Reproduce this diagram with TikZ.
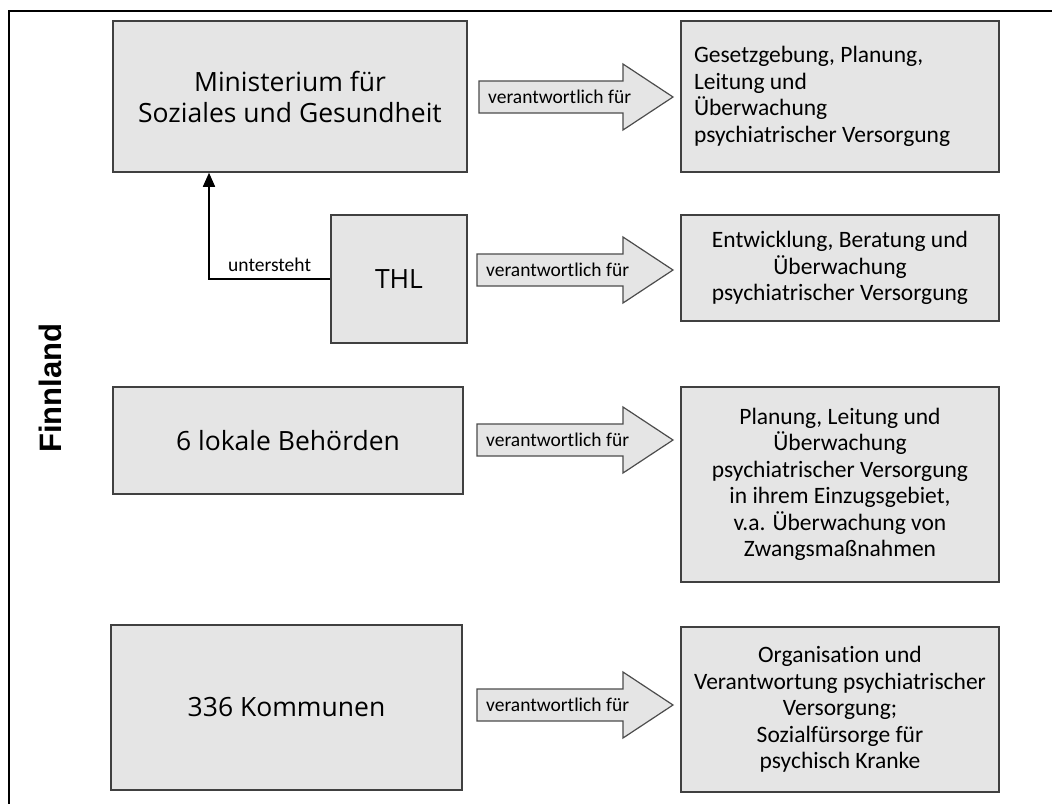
\documentclass[tikz,border=0pt]{standalone}
\usepackage{fontspec}
\setmainfont{Carlito}[Ligatures=NoCommon]
\newfontfamily\organfont{Open Sans}
\newfontfamily\landfont{Liberation Sans}
\usetikzlibrary{arrows.meta}

\begin{document}
\begin{tikzpicture}[x=1pt, y=-1pt,
    organ/.style={draw=black!75, line width=1.5pt, fill=black!10, inner sep=0pt,
                  align=center, font=\organfont\fontsize{26.5}{31}\selectfont},
    duty/.style={draw=black!75, line width=1.5pt, fill=black!10, inner sep=0pt,
                 align=center, font=\fontsize{23.5}{26.5}\selectfont},
    resparrow/.style={draw=black!70, line width=1.2pt, fill=black!10},
    resplabel/.style={anchor=west, inner sep=0pt, font=\fontsize{19.5}{22}\selectfont}]
      \useasboundingbox (0,0) rectangle (1052,804);

      % Frame
      \draw[line width=2pt] (1052,11) -- (9,11) -- (9,804);

      % Country
      \node[rotate=90, font=\landfont\bfseries\fontsize{31}{36}\selectfont] (land) at (50,388)
        {Finnland};

      % Left column
      \node[organ, minimum width=354pt, minimum height=151pt] (ministry) at (290,96.5)
        {Ministerium für\\Soziales und Gesundheit};
      \node[organ, minimum width=136pt, minimum height=128pt] (thl) at (399,279) {THL};
      \node[organ, minimum width=350pt, minimum height=107pt] (office) at (288,440.5)
        {6 lokale Behörden};
      \node[organ, minimum width=351pt, minimum height=165pt] (commune) at (286.5,707.5)
        {336 Kommunen};

      % Right column
      \node[duty, align=flush left, text width=292pt, minimum width=318pt, minimum height=151pt]
        (duty1) at (840,96.5)
        {Gesetzgebung, Planung,\\Leitung und\\Überwachung\\psychiatrischer Versorgung};
      \node[duty, minimum width=318pt, minimum height=106pt] (duty2) at (840,268)
        {Entwicklung, Beratung und\\Überwachung\\psychiatrischer Versorgung};
      \node[duty, minimum width=318pt, minimum height=195pt] (duty3) at (840,484.5)
        {Planung, Leitung und\\Überwachung\\psychiatrischer Versorgung\\in ihrem Einzugsgebiet,\\v.a. Überwachung von\\Zwangsmaßnahmen};
      \node[duty, minimum width=318pt, minimum height=165pt] (duty4) at (840,709.5)
        {Organisation und\\Verantwortung psychiatrischer\\Versorgung;\\Sozialfürsorge für\\psychisch Kranke};

      % Block arrows
      \draw[resparrow, shift={(0,97)}]
             (479,-16) -- (623,-16) -- (623,-33) -- (673,0) --
             (623,33) -- (623,16) -- (479,16) -- cycle;
      \node[resplabel] (resp1) at (488,97) {verantwortlich für};
      \draw[resparrow, shift={(0,270)}]
             (477,-16) -- (623,-16) -- (623,-33) -- (673,0) --
             (623,33) -- (623,16) -- (477,16) -- cycle;
      \node[resplabel] (resp2) at (486,270) {verantwortlich für};
      \draw[resparrow, shift={(0,440)}]
             (477,-16) -- (623,-16) -- (623,-33) -- (673,0) --
             (623,33) -- (623,16) -- (477,16) -- cycle;
      \node[resplabel] (resp3) at (486,440) {verantwortlich für};
      \draw[resparrow, shift={(0,705)}]
             (477,-16) -- (623,-16) -- (623,-33) -- (673,0) --
             (623,33) -- (623,16) -- (477,16) -- cycle;
      \node[resplabel] (resp4) at (486,705) {verantwortlich für};

      % THL reports to the ministry
      \coordinate (bend) at (209,279);
      \draw[line width=1.5pt, -{Triangle[length=14pt, width=12pt]}]
             (thl.west) -- node[above=3pt, font=\fontsize{19.5}{22}\selectfont] (sub) {untersteht}
             (bend) -- (bend |- ministry.south);
    \end{tikzpicture}
\end{document}
